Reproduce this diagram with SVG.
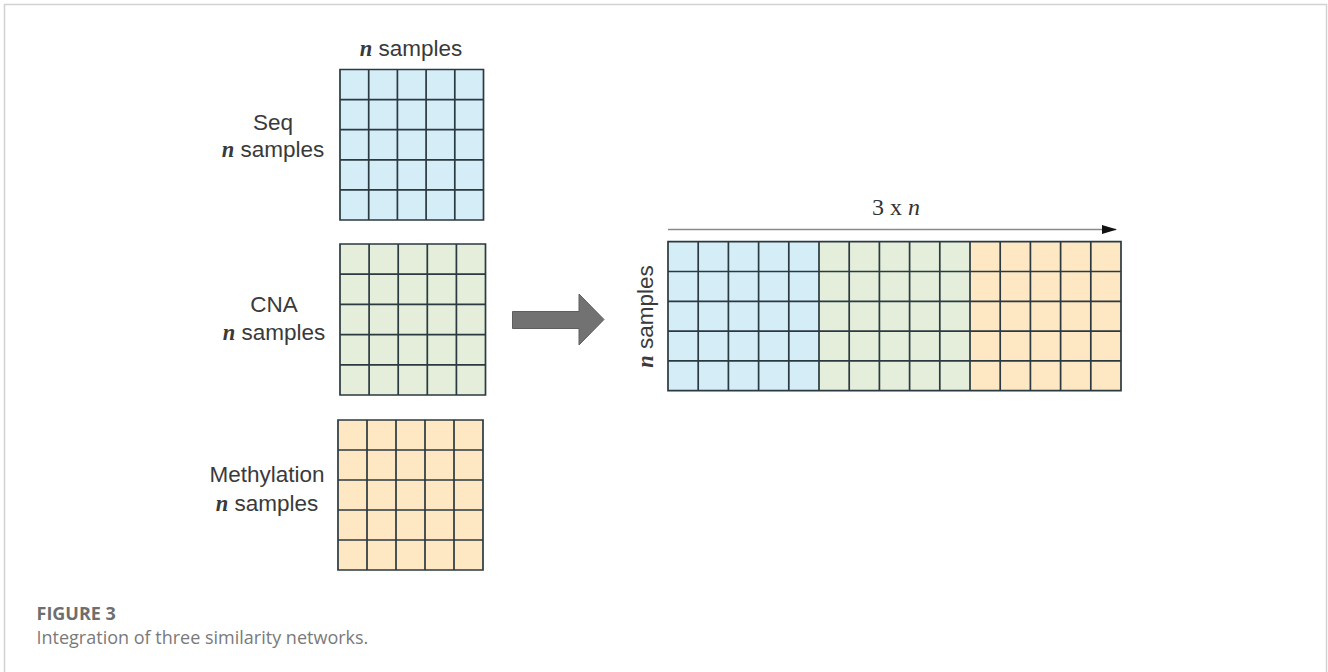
<svg xmlns="http://www.w3.org/2000/svg" width="1328" height="672" viewBox="0 0 1328 672">
  <style>
    .frame { stroke: #d2d2d2; stroke-width: 1.5; fill: none; }
    .grid { stroke: #2b3940; stroke-width: 1.7; fill: none; }
    .blue { fill: #d5edf7; }
    .green { fill: #e4eedb; }
    .yellow { fill: #fde8c3; }
    .lbl { font-family: "Liberation Sans", Arial, sans-serif; font-size: 22.5px; fill: #3a3a3a; }
    .var { font-family: "Liberation Serif", "Times New Roman", serif; font-style: italic; font-weight: bold; }
    .dim { font-family: "Liberation Serif", "Times New Roman", serif; font-size: 24px; fill: #333; }
    .caphead { font-family: "Open Sans", "Liberation Sans", sans-serif; font-size: 18px; font-weight: bold; fill: #6e6e6e; }
    .captext { font-family: "Open Sans", "Liberation Sans", sans-serif; font-size: 18px; fill: #7a7a7a; }
  </style>
  <defs>
    <marker id="tip" markerWidth="15" markerHeight="10" refX="14" refY="5" orient="auto" markerUnits="userSpaceOnUse">
      <path d="M0,0.5 L15,5 L0,9.5 Z" fill="#111"/>
    </marker>
  </defs>

  <rect width="1328" height="672" fill="#fff"/>
  <!-- page frame -->
  <path class="frame" d="M4.5,672 V4.5 H1326.5 V672"/>

  <!-- Seq similarity matrix -->
  <g id="seq">
    <text class="lbl" x="411" y="56" text-anchor="middle"><tspan class="var">n</tspan> samples</text>
    <text class="lbl" x="273" y="130" text-anchor="middle">Seq</text>
    <text class="lbl" x="273" y="157" text-anchor="middle"><tspan class="var">n</tspan> samples</text>
    <rect class="blue" x="340" y="69.5" width="143.5" height="150.5"/>
    <path class="grid" d="M340,69.5 H483.5 V220 H340 Z
      M368.7,69.5 V220 M397.4,69.5 V220 M426.1,69.5 V220 M454.8,69.5 V220
      M340,99.6 H483.5 M340,129.7 H483.5 M340,159.8 H483.5 M340,189.9 H483.5"/>
  </g>

  <!-- CNA similarity matrix -->
  <g id="cna">
    <text class="lbl" x="274" y="312" text-anchor="middle">CNA</text>
    <text class="lbl" x="274" y="340" text-anchor="middle"><tspan class="var">n</tspan> samples</text>
    <rect class="green" x="340" y="244" width="145.5" height="151"/>
    <path class="grid" d="M340,244 H485.5 V395 H340 Z
      M369.1,244 V395 M398.2,244 V395 M427.3,244 V395 M456.4,244 V395
      M340,274.2 H485.5 M340,304.4 H485.5 M340,334.6 H485.5 M340,364.8 H485.5"/>
  </g>

  <!-- Methylation similarity matrix -->
  <g id="methylation">
    <text class="lbl" x="267" y="482" text-anchor="middle">Methylation</text>
    <text class="lbl" x="267" y="511" text-anchor="middle"><tspan class="var">n</tspan> samples</text>
    <rect class="yellow" x="338" y="420" width="145" height="150"/>
    <path class="grid" d="M338,420 H483 V570 H338 Z
      M367,420 V570 M396,420 V570 M425,420 V570 M454,420 V570
      M338,450 H483 M338,480 H483 M338,510 H483 M338,540 H483"/>
  </g>

  <!-- Integrated matrix -->
  <g id="integrated">
    <text class="dim" x="896" y="215" text-anchor="middle">3 x <tspan font-style="italic">n</tspan></text>
    <text class="lbl" transform="translate(653,316.5) rotate(-90)" text-anchor="middle"><tspan class="var">n</tspan> samples</text>
    <rect class="blue" x="668" y="241.7" width="151" height="149"/>
    <rect class="green" x="819" y="241.7" width="151" height="149"/>
    <rect class="yellow" x="970" y="241.7" width="151" height="149"/>
    <path class="grid" d="M668,241.7 H1121 V390.7 H668 Z
      M698.2,241.7 V390.7 M728.4,241.7 V390.7 M758.6,241.7 V390.7 M788.8,241.7 V390.7
      M819,241.7 V390.7 M849.2,241.7 V390.7 M879.4,241.7 V390.7 M909.6,241.7 V390.7 M939.8,241.7 V390.7
      M970,241.7 V390.7 M1000.2,241.7 V390.7 M1030.4,241.7 V390.7 M1060.6,241.7 V390.7 M1090.8,241.7 V390.7
      M668,271.5 H1121 M668,301.3 H1121 M668,331.1 H1121 M668,360.9 H1121"/>
  </g>

  <!-- connectors -->
  <g id="connectors">
    <path d="M512.5,311.5 H579 V294 L604,319.5 L579,345 V328.5 H512.5 Z" fill="#727272" stroke="#5e5e5e" stroke-width="1"/>
    <line x1="668" y1="229.5" x2="1116" y2="229.5" stroke="#8a8a8a" stroke-width="1.5" marker-end="url(#tip)"/>
  </g>

  <!-- caption -->
  <g id="caption">
    <text class="caphead" x="36.5" y="620">FIGURE 3</text>
    <text class="captext" x="36.5" y="644">Integration of three similarity networks.</text>
  </g>
</svg>
